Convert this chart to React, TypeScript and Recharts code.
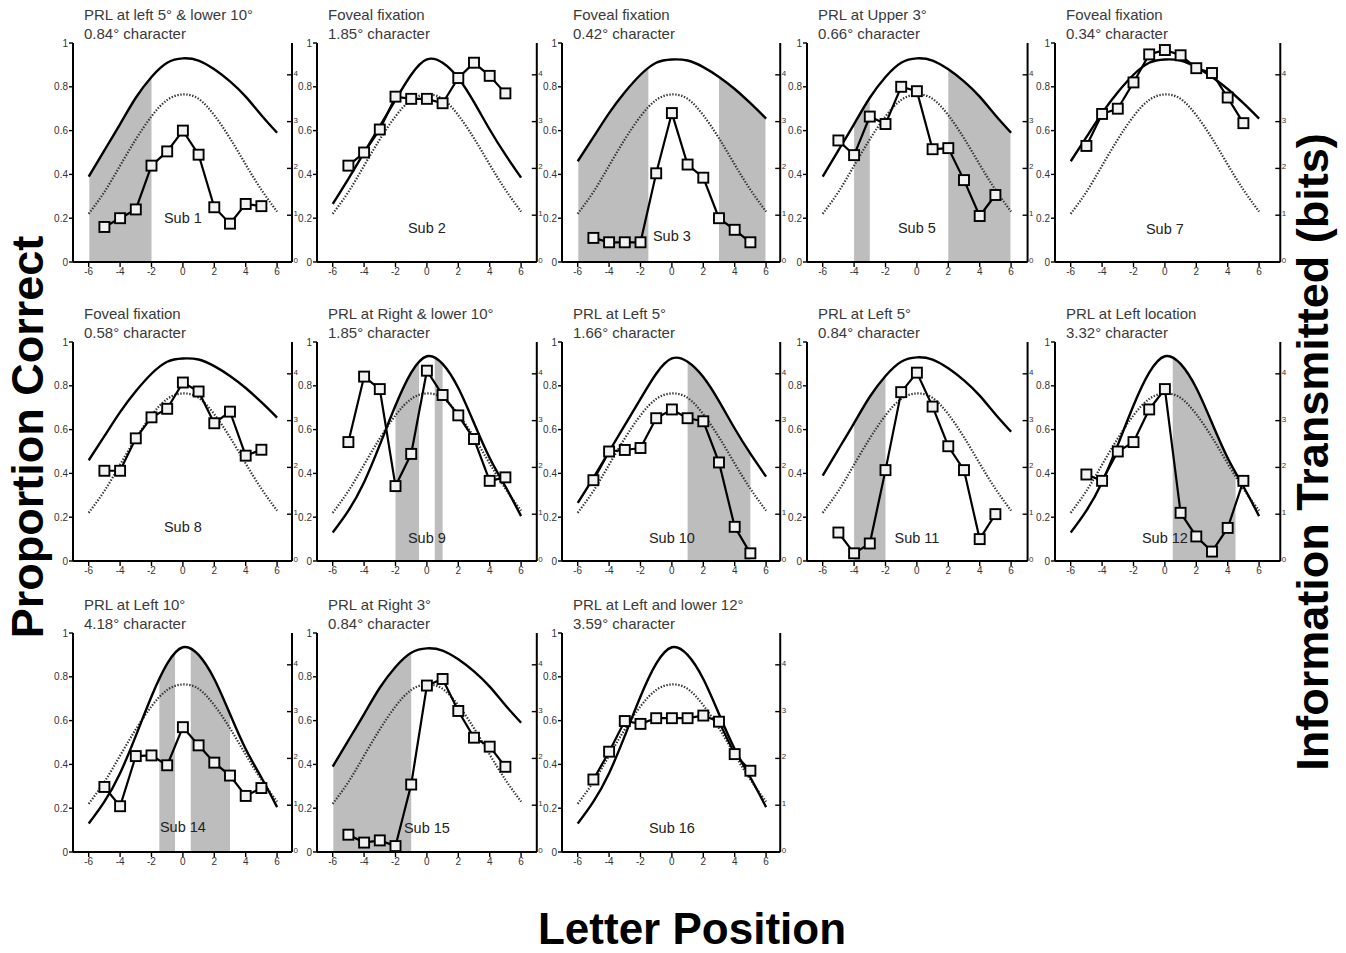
import React from 'react';
import { ComposedChart, Line, Area, XAxis, YAxis, ReferenceArea, ReferenceDot } from 'recharts';

const FONT = '"Liberation Sans", Arial, Helvetica, sans-serif';

// x positions of the model curves and of the observed letters
const curvePositions = [-6, -5, -4, -3, -2, -1, 0, 1, 2, 3, 4, 5, 6];
const letterPositions = [-5, -4, -3, -2, -1, 0, 1, 2, 3, 4, 5];
const xTicks = [-6, -4, -2, 0, 2, 4, 6];
const propTicks = [0, 0.2, 0.4, 0.6, 0.8, 1];
const bitTicks = [0, 1, 2, 3, 4];

// dotted model curve (same in every panel)
const dottedCurve = [0.22, 0.32, 0.44, 0.56, 0.665, 0.74, 0.765, 0.745, 0.67, 0.565, 0.445, 0.33, 0.23];
// solid model curves (four widths)
const solidWide = [0.39, 0.51, 0.63, 0.75, 0.845, 0.91, 0.93, 0.92, 0.88, 0.825, 0.755, 0.67, 0.59];
const solidWider = [0.46, 0.57, 0.68, 0.775, 0.855, 0.91, 0.925, 0.92, 0.89, 0.845, 0.79, 0.725, 0.655];
const solidMid = [0.265, 0.38, 0.5, 0.62, 0.74, 0.855, 0.925, 0.91, 0.84, 0.73, 0.605, 0.49, 0.385];
const solidNarrow = [0.13, 0.23, 0.36, 0.53, 0.71, 0.86, 0.935, 0.9, 0.79, 0.63, 0.47, 0.34, 0.205];

// observed proportion correct, letter positions -5..5
const sub1 = [0.16, 0.2, 0.24, 0.44, 0.505, 0.6, 0.49, 0.25, 0.175, 0.265, 0.255];
const sub2 = [0.44, 0.5, 0.605, 0.755, 0.745, 0.745, 0.725, 0.84, 0.91, 0.85, 0.77];
const sub3 = [0.11, 0.09, 0.09, 0.09, 0.405, 0.68, 0.445, 0.385, 0.2, 0.147, 0.09];
const sub5 = [0.555, 0.488, 0.664, 0.63, 0.8, 0.78, 0.515, 0.52, 0.374, 0.21, 0.306];
const sub7 = [0.53, 0.676, 0.7, 0.82, 0.948, 0.968, 0.944, 0.885, 0.863, 0.751, 0.634];
const sub8 = [0.412, 0.412, 0.56, 0.656, 0.695, 0.815, 0.774, 0.629, 0.682, 0.481, 0.508];
const sub9 = [0.543, 0.842, 0.785, 0.342, 0.489, 0.869, 0.758, 0.665, 0.557, 0.366, 0.382];
const sub10 = [0.369, 0.5, 0.507, 0.516, 0.652, 0.692, 0.652, 0.638, 0.45, 0.156, 0.035];
const sub11 = [0.13, 0.035, 0.08, 0.415, 0.771, 0.86, 0.705, 0.524, 0.415, 0.1, 0.214];
const sub12 = [0.395, 0.366, 0.5, 0.543, 0.692, 0.785, 0.22, 0.112, 0.043, 0.151, 0.366];
const sub14 = [0.297, 0.209, 0.438, 0.441, 0.396, 0.57, 0.487, 0.408, 0.349, 0.256, 0.292];
const sub15 = [0.079, 0.043, 0.053, 0.027, 0.308, 0.76, 0.79, 0.644, 0.522, 0.481, 0.389];
const sub16 = [0.331, 0.458, 0.598, 0.585, 0.611, 0.611, 0.611, 0.623, 0.595, 0.447, 0.371];

// shaded letter-position ranges
const shade1 = [[-6, -2]];
const shade3 = [[-6, -1.5], [3, 6]];
const shade5 = [[-4, -3], [2, 6]];
const shade9 = [[-2, -0.5], [0.5, 1]];
const shade10 = [[1, 5]];
const shade11 = [[-4, -2]];
const shade12 = [[0.5, 4.5]];
const shade14 = [[-1.5, -0.5], [0.5, 3]];
const shade15 = [[-6, -1]];

const panelTitles = [
  ['PRL at left 5\u00b0 & lower 10\u00b0', '0.84\u00b0 character'],
  ['Foveal fixation', '1.85\u00b0 character'],
  ['Foveal fixation', '0.42\u00b0 character'],
  ['PRL at Upper 3\u00b0', '0.66\u00b0 character'],
  ['Foveal fixation', '0.34\u00b0 character'],
  ['Foveal fixation', '0.58\u00b0 character'],
  ['PRL at Right & lower 10\u00b0', '1.85\u00b0 character'],
  ['PRL at Left 5\u00b0', '1.66\u00b0 character'],
  ['PRL at Left 5\u00b0', '0.84\u00b0 character'],
  ['PRL at Left location', '3.32\u00b0 character'],
  ['PRL at Left 10\u00b0', '4.18\u00b0 character'],
  ['PRL at Right 3\u00b0', '0.84\u00b0 character'],
  ['PRL at Left and lower 12\u00b0', '3.59\u00b0 character'],
];
const subLabels = ['Sub 1', 'Sub 2', 'Sub 3', 'Sub 5', 'Sub 7', 'Sub 8', 'Sub 9', 'Sub 10', 'Sub 11', 'Sub 12', 'Sub 14', 'Sub 15', 'Sub 16'];
const subLabelY = [0.2, 0.155, 0.118, 0.155, 0.15, 0.156, 0.105, 0.107, 0.104, 0.105, 0.114, 0.11, 0.11];
const solidOf = [solidWide, solidMid, solidWider, solidWide, solidWider, solidWider, solidNarrow, solidMid, solidWide, solidNarrow, solidNarrow, solidWide, solidNarrow];
const obsOf = [sub1, sub2, sub3, sub5, sub7, sub8, sub9, sub10, sub11, sub12, sub14, sub15, sub16];
const shadeOf: number[][][] = [shade1, [], shade3, shade5, [], [], shade9, shade10, shade11, shade12, shade14, shade15, []];

// layout
const colLeft = [73, 317, 562, 807, 1055];
const rowTop = [43, 342, 633];
const colXMax = [6.95, 7.0, 6.9, 7.05, 7.35];
const PX_PER_UNIT = 15.7;
const PLOT_H = 219;
const LEFT_W = 34;
const RIGHT_W = 14;
const TOP_M = 6;
const BOTTOM_H = 26;
// keeps the shade's outer edge just inside the white mask (avoids an anti-aliasing hairline)
const EDGE_INSET = 0.04;

const BitsTick = (props: any) => {
  const { x, y, payload } = props;
  return (
    <g>
      <line x1={x - 5} x2={x} y1={y} y2={y} stroke="#000" strokeWidth={1.4} />
      <text x={x + 1.5} y={y + 1} fontSize={8} fill="#333" fontFamily={FONT}>
        {payload.value}
      </text>
    </g>
  );
};

const SquareDot = (props: any) => {
  const { cx, cy, index, value } = props;
  if (cx == null || cy == null || value == null) return <g key={`d${index}`} />;
  return (
    <rect key={`d${index}`} x={cx - 5} y={cy - 5} width={10} height={10} fill="#f2f2f2" stroke="#000" strokeWidth={1.9} />
  );
};

function Panel({ i }: { i: number }) {
  const col = i % 5;
  const row = Math.floor(i / 5);
  const xMax = colXMax[col];
  const plotW = (xMax + 7) * PX_PER_UNIT;
  const solid = solidOf[i];
  const obs = obsOf[i];
  const rows = curvePositions.map((x, k) => {
    const j = letterPositions.indexOf(x);
    return {
      x,
      solid: solid[k],
      dotted: dottedCurve[k],
      obs: j >= 0 ? obs[j] : null,
    };
  });
  const xFirst = curvePositions[0];
  const xLast = curvePositions[curvePositions.length - 1];
  const left = colLeft[col];
  const top = rowTop[row];
  return (
    <>
      <div
        style={{
          position: 'absolute',
          left: left + 11,
          top: top - 36.8,
          fontSize: 15,
          lineHeight: '18.5px',
          color: '#3a3a3a',
          fontFamily: FONT,
          whiteSpace: 'nowrap',
        }}
      >
        <div>{panelTitles[i][0]}</div>
        <div>{panelTitles[i][1]}</div>
      </div>
      <div style={{ position: 'absolute', left: left - LEFT_W, top: top - TOP_M }}>
        <ComposedChart
          width={LEFT_W + plotW + RIGHT_W}
          height={TOP_M + PLOT_H + BOTTOM_H}
          data={rows}
          margin={{ top: TOP_M, right: 0, bottom: 0, left: 0 }}
        >
          <XAxis
            dataKey="x"
            type="number"
            domain={[-7, xMax]}
            ticks={xTicks}
            allowDataOverflow
            height={BOTTOM_H}
            axisLine={{ stroke: '#000', strokeWidth: 2 }}
            tickLine={{ stroke: '#000', strokeWidth: 1.4 }}
            tickSize={5}
            tickMargin={1}
            tick={{ fontSize: 10, fill: '#333', fontFamily: FONT }}
          />
          <YAxis
            yAxisId="p"
            type="number"
            domain={[0, 1]}
            ticks={propTicks}
            width={LEFT_W}
            axisLine={{ stroke: '#000', strokeWidth: 2 }}
            tickLine={{ stroke: '#000', strokeWidth: 1.4 }}
            tickSize={4}
            tickMargin={1}
            tick={{ fontSize: 10, fill: '#333', fontFamily: FONT }}
            allowDataOverflow
          />
          <YAxis
            yAxisId="b"
            orientation="right"
            type="number"
            domain={[0, 4.68]}
            ticks={bitTicks}
            width={RIGHT_W}
            axisLine={{ stroke: '#000', strokeWidth: 2 }}
            tickLine={false}
            tickSize={0}
            tickMargin={0}
            tick={<BitsTick />}
            allowDataOverflow
          />
          {shadeOf[i].map(([a, b], k) => (
            <ReferenceArea
              key={`s${k}`}
              yAxisId="p"
              x1={a <= xFirst ? a + EDGE_INSET : a}
              x2={b >= xLast ? b - EDGE_INSET : b}
              y1={0}
              y2={0.97}
              fill="#bdbdbd"
              fillOpacity={1}
              stroke="none"
              zIndex={50}
            />
          ))}
          {shadeOf[i].length > 0 && (
            <Area
              yAxisId="p"
              dataKey={(d: any) => [d.solid, 1]}
              type="natural"
              fill="#ffffff"
              fillOpacity={1}
              stroke="none"
              isAnimationActive={false}
              dot={false}
              activeDot={false}
            />
          )}
          <Line
            yAxisId="p"
            dataKey="dotted"
            type="natural"
            stroke="#333"
            strokeWidth={2.2}
            strokeDasharray="1.4 1.6"
            dot={false}
            activeDot={false}
            isAnimationActive={false}
          />
          <Line
            yAxisId="p"
            dataKey="solid"
            type="natural"
            stroke="#000"
            strokeWidth={2.4}
            dot={false}
            activeDot={false}
            isAnimationActive={false}
          />
          <Line
            yAxisId="p"
            dataKey="obs"
            type="linear"
            stroke="#000"
            strokeWidth={2.2}
            dot={<SquareDot />}
            activeDot={false}
            isAnimationActive={false}
          />
          <ReferenceDot
            yAxisId="p"
            x={0}
            y={subLabelY[i]}
            r={0}
            fill="none"
            stroke="none"
            label={{ value: subLabels[i], position: 'center', fontSize: 14.5, fill: '#222', fontFamily: FONT }}
          />
        </ComposedChart>
      </div>
    </>
  );
}

export default function App() {
  return (
    <div style={{ position: 'absolute', left: 0, top: 0, width: 1346, height: 953, background: '#fff', fontFamily: FONT }}>
      {panelTitles.map((_, i) => (
        <Panel key={i} i={i} />
      ))}
      <svg width={1346} height={953} style={{ position: 'absolute', left: 0, top: 0, pointerEvents: 'none' }}>
        <text transform="translate(43,437) rotate(-90)" textAnchor="middle" fontSize={45} fontWeight="bold" fontFamily={FONT} fill="#000">
          Proportion Correct
        </text>
        <text transform="translate(1328,452) rotate(-90)" textAnchor="middle" fontSize={45} fontWeight="bold" fontFamily={FONT} fill="#000">
          Information Transmitted (bits)
        </text>
        <text x={692} y={944} textAnchor="middle" fontSize={44} fontWeight="bold" fontFamily={FONT} fill="#000">
          Letter Position
        </text>
      </svg>
    </div>
  );
}
